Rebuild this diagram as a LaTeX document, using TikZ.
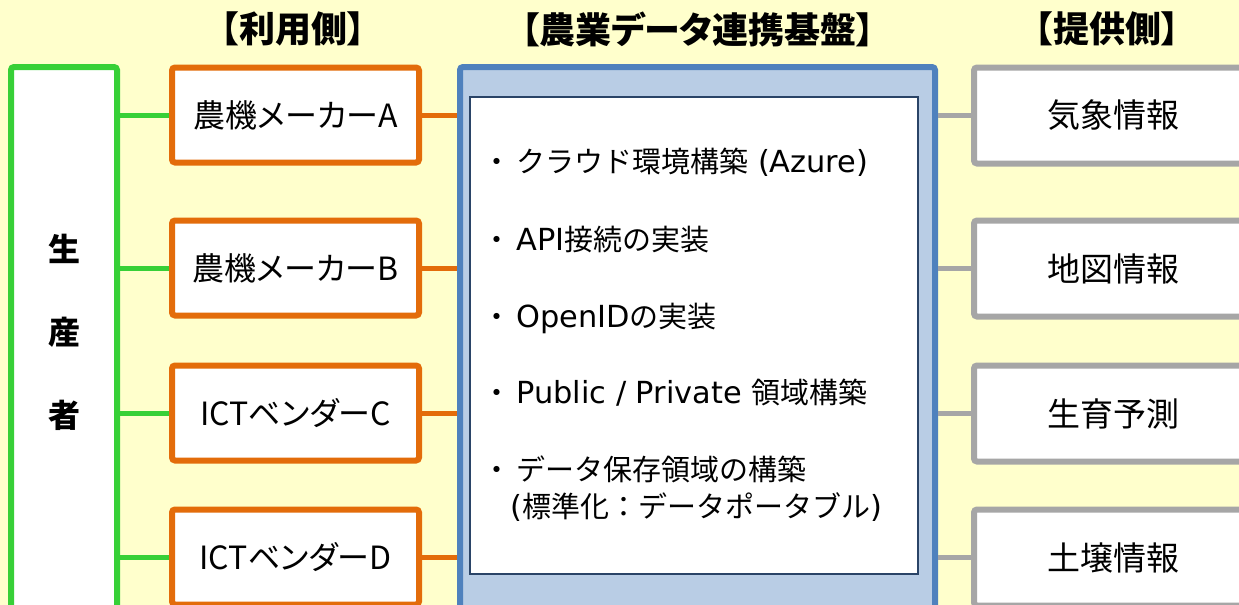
\documentclass[tikz,border=0pt]{standalone}
\usepackage{fontspec}
\setmainfont{Noto Sans CJK JP}
\newfontfamily\jpp[RawFeature=+palt]{Noto Sans CJK JP}
\newfontfamily\dejav{DejaVu Sans}
\newcommand\latw[1]{{\dejav\fontsize{15.2}{17}\selectfont #1}}
\newcommand\bul{・\hspace{2.5pt}}
\definecolor{bgy}{HTML}{FFFFCC}
\definecolor{cgreen}{HTML}{37D037}
\definecolor{corange}{HTML}{E36C0A}
\definecolor{cblue}{HTML}{4F81BD}
\definecolor{cblueL}{HTML}{B9CDE5}
\definecolor{cgray}{HTML}{A6A6A6}
\definecolor{cnavy}{HTML}{2A4467}
\begin{document}
\begin{tikzpicture}[x=0.5pt,y=-0.5pt,
  gbox/.style={draw=cgreen,line width=3pt,fill=white,rounded corners=1.5pt,minimum width=53pt,minimum height=300pt,inner sep=0pt},
  obox/.style={draw=corange,line width=3pt,fill=white,rounded corners=1.5pt,minimum width=123.5pt,minimum height=47.5pt,inner sep=0pt,font=\jpp\fontsize{16}{19}\selectfont},
  graybox/.style={draw=cgray,line width=3pt,fill=white,rounded corners=1.5pt,minimum width=139pt,minimum height=48pt,inner sep=0pt,font=\jpp\fontsize{16.5}{19}\selectfont},
  hubbox/.style={draw=cblue,line width=3pt,fill=cblueL,rounded corners=1.5pt,minimum width=237.5pt,minimum height=300pt,inner sep=0pt},
  corebox/.style={draw=cnavy,line width=1pt,fill=white,minimum width=224pt,minimum height=238.5pt,inner sep=0pt},
  head/.style={font=\jpp\bfseries\fontsize{18}{21}\selectfont,inner sep=0pt},
  vtxt/.style={font=\bfseries\fontsize{16}{19}\selectfont,inner sep=0pt},
  itxt/.style={font=\fontsize{14.5}{17}\selectfont,inner sep=0pt,anchor=west},
  gline/.style={draw=cgreen,line width=2.5pt},
  oline/.style={draw=corange,line width=2.5pt},
  grline/.style={draw=cgray,line width=2.5pt}]
\useasboundingbox (0,0) rectangle (1239,605);
\fill[bgy] (0,0) rectangle (1239,605);
\clip (0,0) rectangle (1239,605);

% headers
\node[head] (h1) at (293,29) {【利用側】};
\node[head] (h2) at (698,29) {【農業データ連携基盤】};
\node[head] (h3) at (1107,29) {【提供側】};

% producer box
\node[gbox] (g) at (64,367) {};
\node[vtxt] (v1) at (64,249) {生};
\node[vtxt] (v2) at (64,332) {産};
\node[vtxt] (v3) at (64,415) {者};

% users
\node[obox] (a) at (295.5,115) {農機メーカーA};
\node[obox] (b) at (295.5,268) {農機メーカーB};
\node[obox] (c) at (295.5,413) {ICTベンダーC};
\node[obox] (d) at (295.5,557) {ICTベンダーD};

% hub
\node[hubbox] (hub) at (697.5,367) {};
\node[corebox] (core) at (694,335.5) {};
\node[itxt] (t1) at (482,162) {\bul クラウド環境構築\latw{ (Azure)}};
\node[itxt] (t2) at (482,240) {\bul\latw{API}接続の実装};
\node[itxt] (t3) at (482,318) {\bul\latw{OpenID}の実装};
\node[itxt] (t4) at (482,393) {\bul\latw{Public / Private }領域構築};
\node[itxt] (t5) at (482,469) {\bul データ保存領域の構築};
\node[itxt] (t6) at (510,507) {\latw{(}標準化：データポータブル\latw{)}};

% providers
\node[graybox] (p1) at (1113,115.5) {気象情報};
\node[graybox] (p2) at (1113,268.5) {地図情報};
\node[graybox] (p3) at (1113,413.5) {生育予測};
\node[graybox] (p4) at (1113,557.5) {土壌情報};

% connectors
\foreach \n in {a,b,c,d}{
  \draw[gline] (g.east |- \n.west) -- (\n.west);
  \draw[oline] (\n.east) -- (\n.east -| hub.west);
}
\foreach \n in {p1,p2,p3,p4}{
  \draw[grline] (hub.east |- \n.west) -- (\n.west);
}
\end{tikzpicture}
\end{document}
